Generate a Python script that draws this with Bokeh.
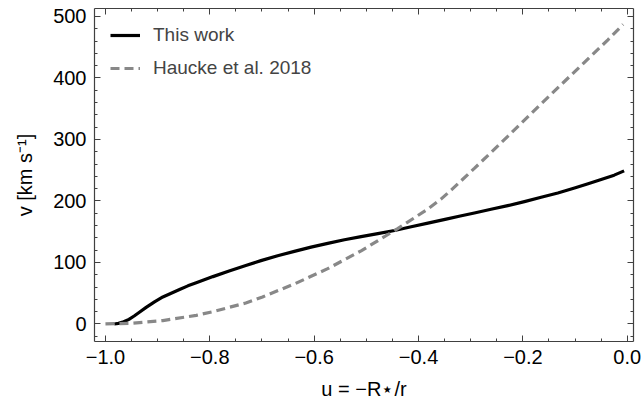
from bokeh.plotting import figure
from bokeh.models import (FixedTicker, LinearAxis, CustomJSTickFormatter, Range1d,
                          Legend, LegendItem)
from bokeh.embed import file_html
from bokeh.resources import INLINE

# ---- data ----
u_this = [-0.983, -0.975, -0.965, -0.955, -0.945, -0.935, -0.922, -0.906, -0.890, -0.874,
          -0.858, -0.842, -0.826, -0.794, -0.763, -0.731, -0.702, -0.67, -0.638, -0.606,
          -0.574, -0.542, -0.510, -0.478, -0.446, -0.414, -0.382, -0.347, -0.32, -0.293,
          -0.261, -0.229, -0.197, -0.165, -0.133, -0.101, -0.075, -0.05, -0.025, -0.006]
v_this = [0, 1, 3.5, 7.5, 13, 19, 27, 36, 44, 50,
          56, 62, 67, 77, 86, 95, 103, 111, 118, 125,
          131, 137, 142, 147, 152, 158, 164, 170.5, 175.5, 180.5,
          186.5, 192.5, 199, 206, 213, 221, 228, 235, 242, 249]

u_haucke = [-1.0, -0.95, -0.89, -0.826, -0.794, -0.763, -0.731, -0.699, -0.638, -0.574,
            -0.51, -0.44, -0.382, -0.357, -0.337, -0.293, -0.229, -0.165, -0.101, -0.037,
            -0.008]
v_haucke = [0, 1.2, 5.5, 14, 20, 27, 34, 44, 65, 90,
            119, 155, 187, 203, 218, 253, 305, 358, 410, 462,
            487]

x_ticks = [-1.0, -0.8, -0.6, -0.4, -0.2, 0.0]
x_minor = [-1.05, -0.95, -0.9, -0.85, -0.75, -0.7, -0.65, -0.55, -0.5, -0.45,
           -0.35, -0.3, -0.25, -0.15, -0.1, -0.05, 0.05]
y_ticks = [0, 100, 200, 300, 400, 500]
y_minor = [-20, 20, 40, 60, 80, 120, 140, 160, 180, 220, 240, 260, 280,
           320, 340, 360, 380, 420, 440, 460, 480]

FONT = "Liberation Sans"
AX = "#404040"

p = figure(width=642, height=412, output_backend="svg", toolbar_location=None,
           x_range=Range1d(-1.021, 0.012), y_range=Range1d(-28.5, 513),
           min_border_left=94, min_border_right=9, min_border_top=8,
           min_border_bottom=71)
p.xgrid.visible = False
p.ygrid.visible = False
p.outline_line_color = None
p.background_fill_color = "white"
p.border_fill_color = "white"

xfmt = CustomJSTickFormatter(code="return tick.toFixed(1).replace('-', '\u2212');")
yfmt = CustomJSTickFormatter(code="return tick.toFixed(0).replace('-', '\u2212');")
nofmt = CustomJSTickFormatter(code="return '';")

def style(ax):
    ax.axis_line_color = AX
    ax.axis_line_width = 1.2
    ax.major_tick_line_color = AX
    ax.minor_tick_line_color = AX
    ax.major_tick_in = 6
    ax.major_tick_out = 0
    ax.minor_tick_in = 3
    ax.minor_tick_out = 0
    ax.major_label_text_font = FONT
    ax.major_label_text_color = "black"
    ax.major_label_text_font_size = "20px"
    ax.axis_label_text_font = FONT
    ax.axis_label_text_font_style = "normal"
    ax.axis_label_text_color = "black"
    ax.axis_label_text_font_size = "20px"

xa = p.xaxis[0]
xa.ticker = FixedTicker(ticks=x_ticks, minor_ticks=x_minor)
xa.formatter = xfmt
style(xa)
xa.major_label_standoff = 8
xa.axis_label = "u = \u2212R\u22c6/r"
xa.axis_label_standoff = 11

ya = p.yaxis[0]
ya.ticker = FixedTicker(ticks=y_ticks, minor_ticks=y_minor)
ya.formatter = yfmt
style(ya)
ya.major_label_standoff = 8
ya.axis_label = "v [km s\u207b\u00b9]"
ya.axis_label_standoff = 14

top = LinearAxis(ticker=FixedTicker(ticks=x_ticks, minor_ticks=x_minor), formatter=nofmt)
style(top)
top.major_label_standoff = 0
p.add_layout(top, "above")
right = LinearAxis(ticker=FixedTicker(ticks=y_ticks, minor_ticks=y_minor), formatter=nofmt)
style(right)
right.major_label_standoff = 0
p.add_layout(right, "right")

r1 = p.line(u_this, v_this, line_color="black", line_width=3.2, line_join="round")
r2 = p.line(u_haucke, v_haucke, line_color="#888888", line_width=3.2, line_dash="9 5")

legend = Legend(items=[LegendItem(label="This work", renderers=[r1]),
                       LegendItem(label="Haucke et al. 2018", renderers=[r2])],
                location="top_left", margin=16, padding=0,
                glyph_width=30, glyph_height=22, label_height=22, spacing=11,
                label_standoff=13, label_text_font=FONT, label_text_font_size="19px",
                background_fill_alpha=0, border_line_color=None)
p.add_layout(legend)

open("out.html", "w").write(file_html(p, INLINE))
